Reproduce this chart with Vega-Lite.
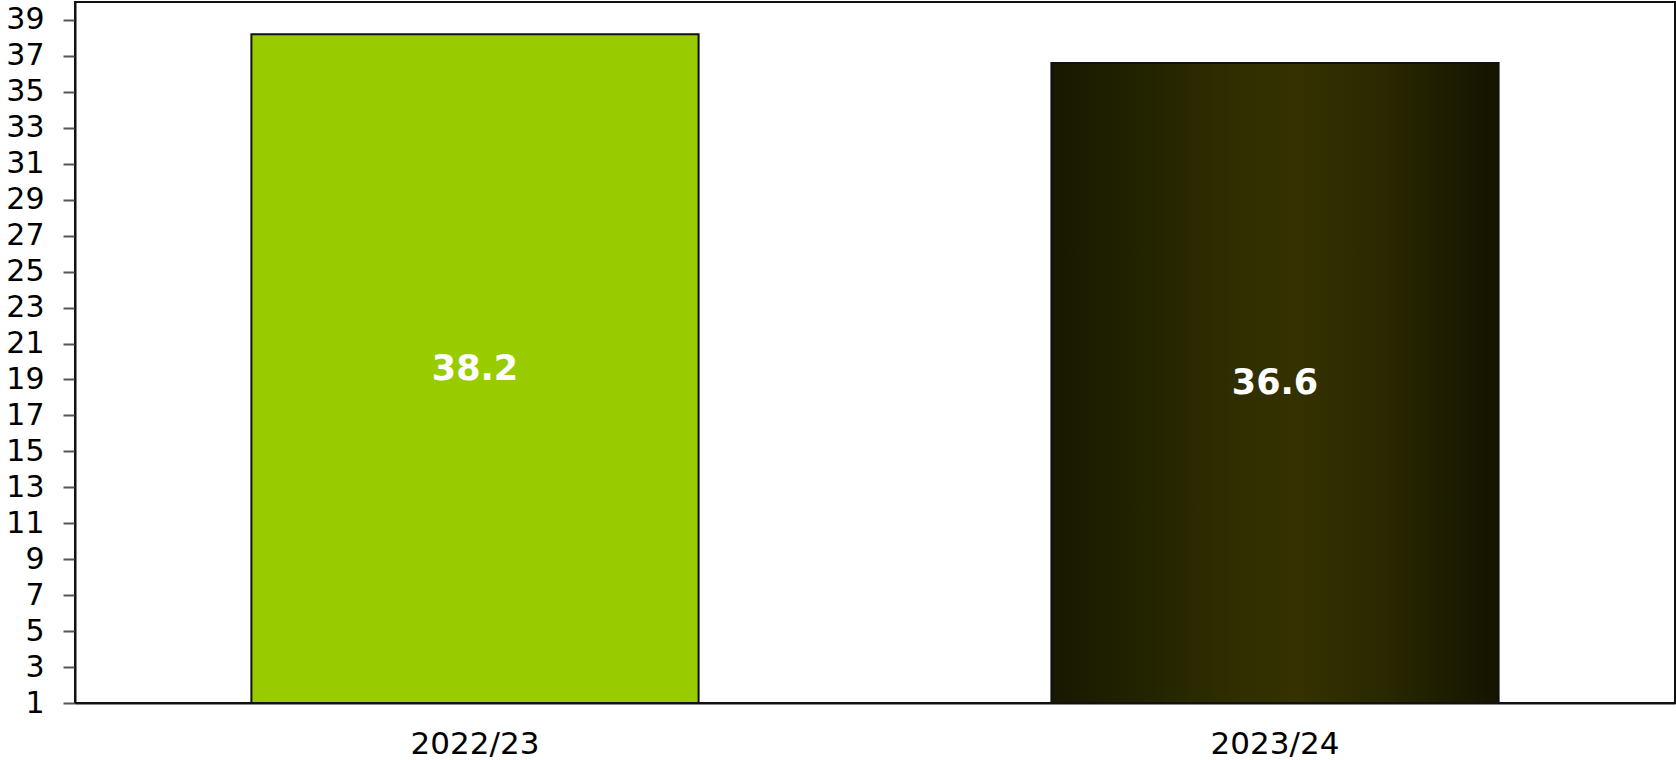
{
  "$schema": "https://vega.github.io/schema/vega-lite/v6.json",
  "autosize": "none",
  "width": 1600,
  "height": 701,
  "padding": {"left": 75, "top": 2, "right": 1, "bottom": 57},
  "background": "white",
  "config": {
    "view": {"stroke": "#111111", "strokeWidth": 2},
    "font": "DejaVu Sans"
  },
  "data": {
    "values": [
      {"year": "2022/23", "value": 38.2},
      {"year": "2023/24", "value": 36.6}
    ]
  },
  "encoding": {
    "x": {
      "field": "year",
      "type": "nominal",
      "sort": null,
      "scale": {"paddingInner": 0.441, "paddingOuter": 0.2205, "align": 0.5},
      "axis": {
        "title": null,
        "labelAngle": 0,
        "labelFont": "DejaVu Sans",
        "labelFontSize": 31,
        "labelColor": "#000000",
        "labelPadding": 26,
        "ticks": false,
        "domain": true,
        "domainColor": "#111111",
        "domainWidth": 2
      }
    }
  },
  "layer": [
    {
      "transform": [{"filter": "datum.year === '2022/23'"}],
      "mark": {"type": "bar", "color": "#99cc00", "stroke": "#111111", "strokeWidth": 2, "clip": true},
      "encoding": {
        "y": {
          "field": "value",
          "type": "quantitative",
          "scale": {"domain": [1, 40], "nice": false, "zero": false},
          "axis": {
            "title": null,
            "values": [1, 3, 5, 7, 9, 11, 13, 15, 17, 19, 21, 23, 25, 27, 29, 31, 33, 35, 37, 39],
            "tickCount": 40,
            "labelOverlap": false,
            "labelFont": "DejaVu Sans",
            "labelFontSize": 30,
            "labelColor": "#000000",
            "labelPadding": 19,
            "tickSize": 12,
            "tickWidth": 2,
            "tickColor": "#555555",
            "domainColor": "#111111",
            "domainWidth": 2,
            "grid": false
          }
        },
        "y2": {"datum": 1}
      }
    },
    {
      "transform": [{"filter": "datum.year === '2023/24'"}],
      "mark": {
        "type": "bar",
        "stroke": "#111111",
        "strokeWidth": 2,
        "clip": true,
        "color": {
          "gradient": "linear",
          "x1": 0, "x2": 1, "y1": 0, "y2": 0,
          "stops": [
            {"offset": 0, "color": "#181800"},
            {"offset": 0.2, "color": "#222300"},
            {"offset": 0.4, "color": "#302e00"},
            {"offset": 0.55, "color": "#353100"},
            {"offset": 0.75, "color": "#292800"},
            {"offset": 1, "color": "#141400"}
          ]
        }
      },
      "encoding": {
        "y": {"field": "value", "type": "quantitative"},
        "y2": {"datum": 1}
      }
    },
    {
      "transform": [{"calculate": "(datum.value + 1) / 2", "as": "mid"}],
      "mark": {"type": "text", "color": "#ffffff", "font": "DejaVu Sans", "fontWeight": "bold", "fontSize": 35, "align": "center", "baseline": "middle"},
      "encoding": {
        "y": {"field": "mid", "type": "quantitative"},
        "text": {"field": "value", "type": "quantitative", "format": ".1f"}
      }
    }
  ]
}
